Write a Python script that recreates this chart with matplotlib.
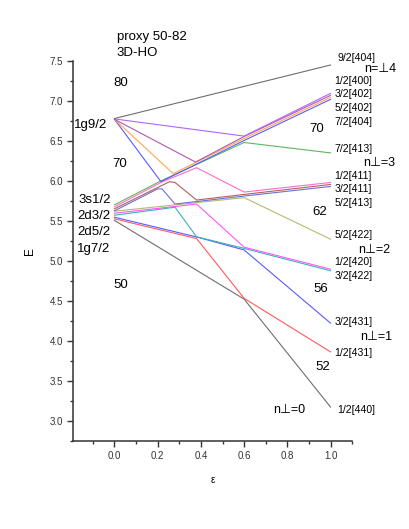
import matplotlib.pyplot as plt
from matplotlib.ticker import MultipleLocator

plt.rcParams['font.family'] = ['Liberation Sans', 'DejaVu Sans']

# sorted single-particle levels, index 1 = lowest; (eps, E) points
EPS_01 = [0.0, 0.6, 1.0]
E_01 = [5.505, 4.52, 3.17]
EPS_02 = [0.0, 0.38, 0.6, 1.0]
E_02 = [5.525, 5.278, 4.53, 3.86]
EPS_03 = [0.0, 0.38, 0.6, 1.0]
E_03 = [5.545, 5.298, 5.135, 4.22]
EPS_04 = [0.0, 0.28, 0.38, 0.6, 1.0]
E_04 = [5.57, 5.67, 5.30, 5.155, 4.875]
EPS_05 = [0.0, 0.38, 0.6, 1.0]
E_05 = [5.595, 5.71, 5.17, 4.895]
EPS_06 = [0.0, 0.6, 1.0]
E_06 = [5.62, 5.79, 5.27]
EPS_07 = [0.0, 0.2, 0.22, 0.28, 0.6, 1.0]
E_07 = [5.625, 5.90, 5.90, 5.71, 5.81, 5.93]
EPS_08 = [0.0, 0.255, 0.28, 0.38, 0.6, 1.0]
E_08 = [5.65, 5.99, 5.98, 5.76, 5.83, 5.955]
EPS_09 = [0.0, 0.215, 0.38, 0.6, 1.0]
E_09 = [5.675, 5.98, 6.165, 5.86, 5.98]
EPS_10 = [0.0, 0.215, 0.6, 1.0]
E_10 = [5.70, 6.0, 6.48, 6.35]
EPS_11 = [0.0, 0.215, 0.6, 1.0]
E_11 = [6.77, 5.99, 6.505, 7.02]
EPS_12 = [0.0, 0.272, 0.6, 1.0]
E_12 = [6.77, 6.09, 6.53, 7.045]
EPS_13 = [0.0, 0.375, 0.6, 1.0]
E_13 = [6.77, 6.235, 6.555, 7.07]
EPS_14 = [0.0, 0.6, 1.0]
E_14 = [6.775, 6.56, 7.095]
EPS_15 = [0.0, 1.0]
E_15 = [6.78, 7.45]

LEVELS = [(EPS_01, E_01), (EPS_02, E_02), (EPS_03, E_03), (EPS_04, E_04),
          (EPS_05, E_05), (EPS_06, E_06), (EPS_07, E_07), (EPS_08, E_08),
          (EPS_09, E_09), (EPS_10, E_10), (EPS_11, E_11), (EPS_12, E_12),
          (EPS_13, E_13), (EPS_14, E_14), (EPS_15, E_15)]
COLORS = ['#6e6e6e', '#ff5a5a', '#5a5aff', '#3cb0b0', '#ff55ff', '#b8b872',
          '#6e6ed8', '#b06060', '#ff6cc8', '#5cb85c', '#5a5aff', '#ffa64c',
          '#b058b0', '#b064ff', '#6e6e6e']

SPHERICAL = ['1g9/2', '3s1/2', '2d3/2', '2d5/2', '1g7/2']
SPHERICAL_E = [6.70, 5.763, 5.563, 5.354, 5.146]

NILSSON = ['9/2[404]', '1/2[400]', '3/2[402]', '5/2[402]', '7/2[404]',
           '7/2[413]', '1/2[411]', '3/2[411]', '5/2[413]', '5/2[422]',
           '1/2[420]', '3/2[422]', '3/2[431]', '1/2[431]', '1/2[440]']
NILSSON_E = [7.534, 7.254, 7.088, 6.909, 6.741, 6.396, 6.063, 5.896, 5.729,
             5.325, 4.979, 4.804, 4.229, 3.846, 3.129]

N_PERP = ['n=⊥4', 'n⊥=3', 'n⊥=2', 'n⊥=1', 'n⊥=0']
N_PERP_EPS = [1.157, 1.151, 1.128, 1.138, 0.735]
N_PERP_E = [7.396, 6.221, 5.138, 4.046, 3.138]

MAGIC = ['80', '70', '50', '70', '62', '56', '52']
MAGIC_EPS = [0.029, 0.022, 0.029, 0.936, 0.948, 0.955, 0.964]
MAGIC_E = [7.221, 6.206, 4.70, 6.646, 5.616, 4.646, 3.669]

fig = plt.figure(figsize=(4.09, 5.29), dpi=100)
ax = fig.add_axes([0.178, 0.1664, 0.683, 0.7183])

for (eps, e), c in zip(LEVELS, COLORS):
    ax.plot(eps, e, color=c, linewidth=0.8, solid_joinstyle='miter')

ax.set_xlim(-0.193, 1.10)
ax.set_ylim(2.745, 7.5)
ax.set_xticks([0.0, 0.2, 0.4, 0.6, 0.8, 1.0])
ax.xaxis.set_minor_locator(MultipleLocator(0.1))
ax.set_yticks([3.0, 3.5, 4.0, 4.5, 5.0, 5.5, 6.0, 6.5, 7.0, 7.5])
ax.yaxis.set_minor_locator(MultipleLocator(0.25))
ax.tick_params(which='major', direction='out', length=4, width=1.0,
               labelsize=7, colors='#333333', pad=3)
ax.tick_params(which='minor', direction='out', length=2.2, width=1.0,
               colors='#333333')
for side in ['top', 'right']:
    ax.spines[side].set_visible(False)
for side in ['left', 'bottom']:
    ax.spines[side].set_linewidth(1.1)
    ax.spines[side].set_color('#333333')

ax.set_xlabel('ε', fontsize=7, labelpad=10)
ax.set_ylabel('E', fontsize=8.5, labelpad=10)

kw = dict(clip_on=False, color='black')
ax.text(0.011, 7.796, 'proxy 50-82', fontsize=9.5, ha='left', va='center', **kw)
ax.text(0.011, 7.596, '3D-HO', fontsize=9.5, ha='left', va='center', **kw)

for i, (lab, e) in enumerate(zip(SPHERICAL, SPHERICAL_E)):
    x = -0.032 if i == 0 else -0.018
    ax.text(x, e, lab, fontsize=9.5, ha='right', va='center', **kw)

for lab, e in zip(NILSSON, NILSSON_E):
    x = 1.033 if lab in ('9/2[404]', '1/2[440]') else 1.018
    ax.text(x, e, lab, fontsize=7.6, ha='left', va='center', **kw)

for lab, x, e in zip(N_PERP, N_PERP_EPS, N_PERP_E):
    ax.text(x, e, lab, fontsize=9, ha='left', va='center', **kw)

for lab, x, e in zip(MAGIC, MAGIC_EPS, MAGIC_E):
    ax.text(x, e, lab, fontsize=9.5, ha='center', va='center', **kw)

fig.savefig('out.png', dpi=100)
